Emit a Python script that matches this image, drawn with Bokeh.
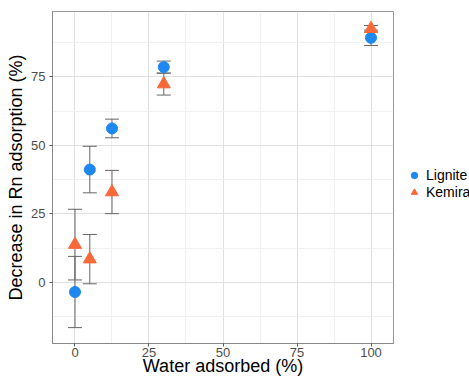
from bokeh.plotting import figure
from bokeh.models import ColumnDataSource, Whisker, TeeHead, FixedTicker, Range1d, Legend, LegendItem
from bokeh.embed import file_html
from bokeh.resources import INLINE

water = [0, 5, 12.5, 30, 100]
lignite = [-3.5, 41.2, 56.2, 78.6, 89.3]
lignite_err = [13.0, 8.5, 3.4, 2.2, 2.8]
kemira = [13.8, 8.5, 33.0, 72.4, 92.6]
kemira_err = [12.9, 9.0, 7.9, 4.0, 1.2]

BLUE = "#1E88F0"
ORANGE = "#F8693A"
FONT = "Liberation Sans"

def src(y, e):
    return ColumnDataSource(dict(x=water, y=y,
                                 lo=[a - b for a, b in zip(y, e)],
                                 hi=[a + b for a, b in zip(y, e)]))

sl = src(lignite, lignite_err)
sk = src(kemira, kemira_err)

p = figure(width=469, height=378, output_backend="svg", toolbar_location=None,
           x_range=Range1d(-7.6, 107.6), y_range=Range1d(-22.3, 98.9),
           frame_width=341, frame_height=332,
           min_border_left=52, min_border_top=11, min_border_right=10, min_border_bottom=10)
p.background_fill_color = "white"
p.border_fill_color = "white"
p.outline_line_color = "#999999"
p.outline_line_width = 1

for s in (sl, sk):
    w = Whisker(source=s, base="x", lower="lo", upper="hi", line_color="#666666", line_width=1,
                upper_head=TeeHead(size=14, line_color="#666666", line_width=1),
                lower_head=TeeHead(size=14, line_color="#666666", line_width=1))
    p.add_layout(w)

r1 = p.scatter("x", "y", source=sl, marker="circle", size=11, color=BLUE)
r2 = p.scatter("x", "y", source=sk, marker="triangle", size=13, color=ORANGE)

p.xaxis.ticker = FixedTicker(ticks=[0, 25, 50, 75, 100], minor_ticks=[12.5, 37.5, 62.5, 87.5])
p.yaxis.ticker = FixedTicker(ticks=[0, 25, 50, 75], minor_ticks=[-12.5, 12.5, 37.5, 62.5, 87.5])
for ax in (p.xaxis[0], p.yaxis[0]):
    ax.axis_line_color = "#888888"
    ax.major_tick_line_color = "#555555"
    ax.major_tick_out = 3
    ax.major_tick_in = 0
    ax.minor_tick_line_color = None
    ax.major_label_text_font = FONT
    ax.major_label_text_font_size = "13px"
    ax.major_label_text_color = "#4D4D4D"
    ax.axis_label_text_font = FONT
    ax.axis_label_text_font_size = "18px"
    ax.axis_label_text_font_style = "normal"
    ax.axis_label_text_color = "black"
p.xaxis.axis_label = "Water adsorbed (%)"
p.yaxis.axis_label = "Decrease in Rn adsorption (%)"
p.xaxis.major_label_standoff = 0
p.yaxis.major_label_standoff = 3
p.xaxis.axis_label_standoff = -4
p.yaxis.axis_label_standoff = 2

for g in (p.xgrid[0], p.ygrid[0]):
    g.grid_line_color = "#E0E0E0"
    g.minor_grid_line_color = "#F0F0F0"

legend = Legend(items=[LegendItem(label="Lignite", renderers=[r1]),
                       LegendItem(label="Kemira", renderers=[r2])],
                location=(13, 143), orientation="vertical",
                label_text_font=FONT, label_text_font_size="14px", label_text_color="black",
                border_line_color=None, background_fill_alpha=0,
                padding=0, margin=0, spacing=0, glyph_width=16, glyph_height=16,
                label_standoff=4, label_height=17)
p.add_layout(legend, "right")

open("out.html", "w").write(file_html(p, INLINE))
